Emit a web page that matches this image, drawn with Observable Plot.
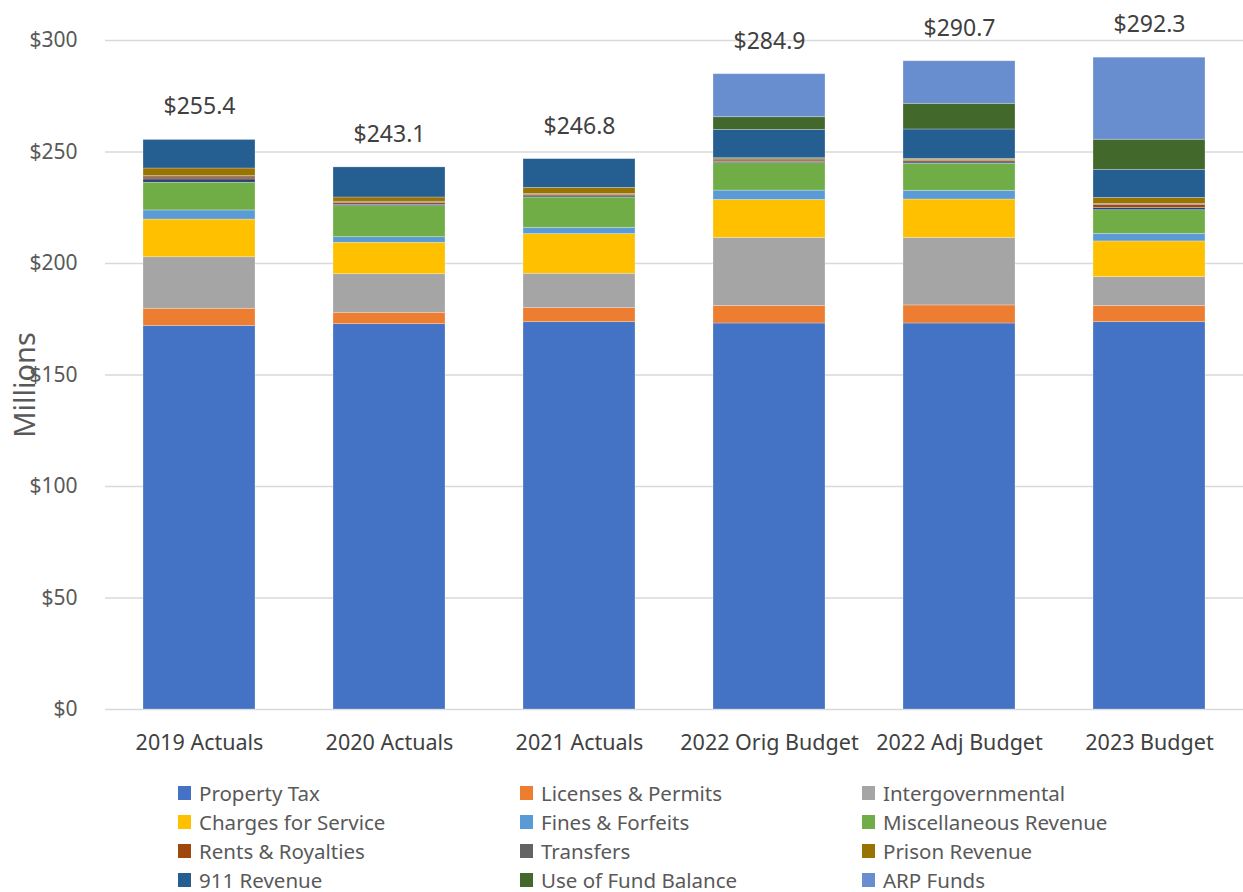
<!DOCTYPE html>
<html>
<head>
<meta charset="utf-8">
<script src="https://cdn.jsdelivr.net/npm/d3@7"></script>
<script src="https://cdn.jsdelivr.net/npm/@observablehq/plot@0.6"></script>
<style>
  body { margin: 0; background: #fff; font-family: "Noto Sans", sans-serif; }
  #legend { display: grid; grid-template-columns: 342px 342px 342px; margin-left: 178px; margin-top: 9px; color: #595959; font-size: 20.5px; }
  .item { display: flex; align-items: center; height: 29px; }
  .sw { width: 13px; height: 14px; margin-right: 8px; flex: none; }
</style>
</head>
<body>
<div id="chart"></div>
<div id="legend"></div>
<script>
const categories = ["2019 Actuals", "2020 Actuals", "2021 Actuals", "2022 Orig Budget", "2022 Adj Budget", "2023 Budget"];
const seriesNames = ["Property Tax", "Licenses & Permits", "Intergovernmental", "Charges for Service", "Fines & Forfeits", "Miscellaneous Revenue", "Other", "Rents & Royalties", "Transfers", "Prison Revenue", "911 Revenue", "Use of Fund Balance", "ARP Funds"];
const legendNames = ["Property Tax", "Licenses & Permits", "Intergovernmental", "Charges for Service", "Fines & Forfeits", "Miscellaneous Revenue", "Rents & Royalties", "Transfers", "Prison Revenue", "911 Revenue", "Use of Fund Balance", "ARP Funds"];
const colors = ["#4472C4", "#ED7D31", "#A5A5A5", "#FFC000", "#5B9BD5", "#70AD47", "#264478", "#9E480E", "#636363", "#997300", "#255E91", "#43682B", "#698ED0"];

const propertyTax   = [172.0, 172.8, 173.7, 173.1, 173.1, 173.7];
const licenses      = [7.7, 5.1, 6.3, 7.9, 8.1, 7.3];
const intergov      = [23.1, 17.3, 15.4, 30.5, 30.3, 12.9];
const charges       = [16.9, 14.1, 17.8, 17.0, 17.2, 16.0];
const fines         = [4.1, 2.5, 2.8, 4.2, 3.9, 3.4];
const misc          = [12.4, 13.9, 13.6, 12.3, 12.1, 10.6];
const other         = [1.5, 0.6, 0.5, 0.6, 0.6, 1.0];
const rents         = [0.9, 0.8, 0.6, 0.6, 0.6, 1.3];
const transfers     = [0.6, 0.6, 0.5, 0.5, 0.5, 0.5];
const prison        = [3.4, 1.9, 2.7, 0.5, 0.5, 2.7];
const rev911        = [12.8, 13.5, 12.9, 12.7, 13.2, 12.6];
const fundBalance   = [0, 0, 0, 5.7, 11.5, 13.5];
const arpFunds      = [0, 0, 0, 19.3, 19.1, 36.8];
const totals        = [255.4, 243.1, 246.8, 284.9, 290.7, 292.3];
const yTicks        = [0, 50, 100, 150, 200, 250, 300];

const seriesValues = [propertyTax, licenses, intergov, charges, fines, misc, other, rents, transfers, prison, rev911, fundBalance, arpFunds];
const rows = [];
categories.forEach((c, i) => {
  seriesNames.forEach((s, j) => {
    rows.push({category: c, series: s, value: seriesValues[j][i]});
  });
});
const totalRows = categories.map((c, i) => ({category: c, total: totals[i]}));

const chart = Plot.plot({
  width: 1243,
  height: 769,
  marginLeft: 105,
  marginRight: 0,
  marginTop: 40,
  marginBottom: 60,
  style: {fontFamily: "Noto Sans, sans-serif", fontSize: "20px", color: "#595959"},
  x: {domain: categories, paddingInner: 0.41, paddingOuter: 0.19, label: null},
  y: {domain: [0, 300], ticks: yTicks, label: null},
  color: {domain: seriesNames, range: colors},
  marks: [
    Plot.gridY(yTicks, {stroke: "#d9d9d9", strokeOpacity: 1, strokeWidth: 1.5}),
    Plot.barY(rows, {x: "category", y: "value", fill: "series", z: "series", order: null, stroke: "#ffffff", strokeOpacity: 0.35, strokeWidth: 0.75}),
    Plot.text(totalRows, {x: "category", y: "total", text: d => "$" + d.total.toFixed(1), dy: -33, fontSize: 23, fill: "#404040"}),
    Plot.axisY(yTicks, {tickSize: 0, tickPadding: 28, tickFormat: d => "$" + d, fontSize: 21, fill: "#595959", label: null}),
    Plot.text(["Millions"], {frameAnchor: "left", textAnchor: "middle", text: d => d, rotate: -90, dx: -80, dy: 10, fontSize: 29, fill: "#595959"}),
    Plot.axisX({tickSize: 0, tickPadding: 25, fontSize: 21.5, fill: "#404040", label: null})
  ]
});
document.getElementById("chart").appendChild(chart);

const legend = document.getElementById("legend");
legendNames.forEach(name => {
  const idx = seriesNames.indexOf(name);
  const item = document.createElement("div");
  item.className = "item";
  const sw = document.createElement("span");
  sw.className = "sw";
  sw.style.background = colors[idx];
  const lab = document.createElement("span");
  lab.textContent = name;
  item.appendChild(sw);
  item.appendChild(lab);
  legend.appendChild(item);
});
</script>
</body>
</html>
